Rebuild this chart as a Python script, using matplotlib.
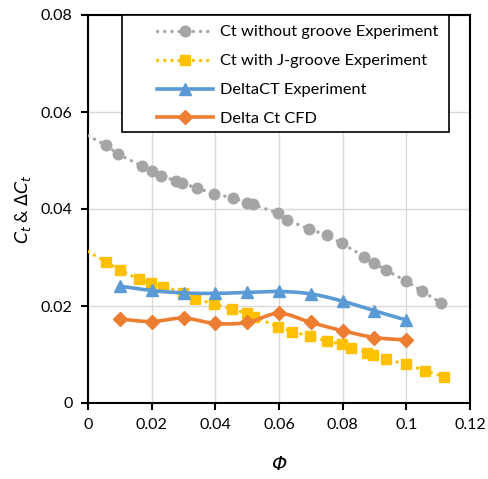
import numpy as np
import matplotlib
matplotlib.use("Agg")
import matplotlib.pyplot as plt
from matplotlib.patches import Rectangle
from matplotlib.ticker import FuncFormatter

plt.rcParams['font.family'] = ['Lato', 'DejaVu Sans']
plt.rcParams['mathtext.fontset'] = 'dejavusans'

# --- data ---------------------------------------------------------------
phi_no_groove = [0.0056, 0.0095, 0.0169, 0.0200, 0.0228, 0.0276, 0.0294, 0.0341,
                 0.0395, 0.0456, 0.0499, 0.0517, 0.0598, 0.0626, 0.0695, 0.0750,
                 0.0797, 0.0868, 0.0899, 0.0935, 0.0998, 0.1048, 0.1108]
ct_no_groove = [0.0532, 0.0513, 0.0489, 0.0479, 0.0469, 0.0458, 0.0453, 0.0444,
                0.0431, 0.0423, 0.0413, 0.0410, 0.0391, 0.0377, 0.0359, 0.0346,
                0.0329, 0.0302, 0.0289, 0.0274, 0.0252, 0.0231, 0.0207]
ct_no_groove_at_zero = 0.0551

phi_j_groove = [0.0057, 0.0100, 0.0160, 0.0198, 0.0237, 0.0299, 0.0336, 0.0396,
                0.0453, 0.0499, 0.0522, 0.0596, 0.0640, 0.0697, 0.0750, 0.0797,
                0.0825, 0.0876, 0.0896, 0.0935, 0.0999, 0.1059, 0.1118]
ct_j_groove = [0.0291, 0.0274, 0.0255, 0.0248, 0.0240, 0.0227, 0.0214, 0.0205,
               0.0193, 0.0185, 0.0178, 0.0157, 0.0147, 0.0138, 0.0128, 0.0121,
               0.0113, 0.0104, 0.0099, 0.0090, 0.0080, 0.0067, 0.0054]
ct_j_groove_at_zero = 0.0312

phi_delta = [0.01, 0.02, 0.03, 0.04, 0.05, 0.06, 0.07, 0.08, 0.09, 0.10]
delta_ct_exp = [0.0241, 0.0232, 0.0227, 0.0226, 0.0228, 0.0230, 0.0225, 0.0210, 0.0190, 0.0171]
delta_ct_cfd = [0.0173, 0.0168, 0.0175, 0.0164, 0.0166, 0.0185, 0.0166, 0.0149, 0.0135, 0.0130]

x_ticks = [0, 0.02, 0.04, 0.06, 0.08, 0.10, 0.12]
y_ticks = [0, 0.02, 0.04, 0.06, 0.08]

labels = ["Ct without groove Experiment", "Ct with J-groove Experiment",
          "DeltaCT Experiment", "Delta Ct CFD"]

GRAY = "#A5A5A5"
GOLD = "#FFC000"
BLUE = "#5B9BD5"
ORANGE = "#ED7D31"


def smooth(xs, ys, n=20):
    """Catmull-Rom curve through the given points (spreadsheet-style smoothed line)."""
    xs = np.asarray(xs, float)
    ys = np.asarray(ys, float)
    px = np.concatenate([[2 * xs[0] - xs[1]], xs, [2 * xs[-1] - xs[-2]]])
    py = np.concatenate([[2 * ys[0] - ys[1]], ys, [2 * ys[-1] - ys[-2]]])
    out_x, out_y = [], []
    t = np.linspace(0, 1, n, endpoint=False)
    for i in range(1, len(px) - 2):
        for p, out in ((px, out_x), (py, out_y)):
            p0, p1, p2, p3 = p[i - 1], p[i], p[i + 1], p[i + 2]
            out.extend(0.5 * ((2 * p1) + (-p0 + p2) * t
                              + (2 * p0 - 5 * p1 + 4 * p2 - p3) * t ** 2
                              + (-p0 + 3 * p1 - 3 * p2 + p3) * t ** 3))
    out_x.append(xs[-1])
    out_y.append(ys[-1])
    return np.array(out_x), np.array(out_y)


fig = plt.figure(figsize=(4.89, 4.79), dpi=100)
ax = fig.add_axes([88 / 489, 76 / 479, 382 / 489, 388 / 479])

dot_style = dict(linestyle=(0, (0.05, 2.1)), linewidth=2.4, dash_capstyle='round')

# dotted series lines, starting from the zero-flow value
ax.plot([0] + phi_no_groove, [ct_no_groove_at_zero] + ct_no_groove,
        color=GRAY, zorder=3, **dot_style)
ax.plot(phi_no_groove, ct_no_groove, linestyle='none', marker='o',
        markersize=7.6, color=GRAY, zorder=4)
ax.plot([0] + phi_j_groove, [ct_j_groove_at_zero] + ct_j_groove,
        color=GOLD, zorder=3, **dot_style)
ax.plot(phi_j_groove, ct_j_groove, linestyle='none', marker='s',
        markersize=7.6, color=GOLD, zorder=4)

sx, sy = smooth(phi_delta, delta_ct_exp)
ax.plot(sx, sy, color=BLUE, linewidth=2.6, zorder=5, solid_capstyle='round')
ax.plot(phi_delta, delta_ct_exp, linestyle='none', marker='^', markersize=8.5,
        color=BLUE, zorder=6)
sx, sy = smooth(phi_delta, delta_ct_cfd)
ax.plot(sx, sy, color=ORANGE, linewidth=2.6, zorder=5, solid_capstyle='round')
ax.plot(phi_delta, delta_ct_cfd, linestyle='none', marker='D', markersize=7,
        color=ORANGE, zorder=6)

ax.set_xlim(0, 0.12)
ax.set_ylim(0, 0.08)
ax.set_xticks(x_ticks)
ax.set_yticks(y_ticks)
fmt = FuncFormatter(lambda v, pos: "0" if abs(v) < 1e-12 else f"{v:g}")
ax.xaxis.set_major_formatter(fmt)
ax.yaxis.set_major_formatter(fmt)
ax.grid(True, color="#D9D9D9", linewidth=1.0, zorder=0)
ax.set_axisbelow(True)
for s in ax.spines.values():
    s.set_color("black")
    s.set_linewidth(1.5)
ax.tick_params(axis='both', direction='out', length=5, width=1.5,
               labelsize=11.5, colors='black', pad=6)

ax.set_xlabel("Φ", fontsize=14, labelpad=16, fontstyle='italic',
              family=['DejaVu Sans'])
ax.set_ylabel(r"$C_t$ & $\mathit{\Delta C_t}$", fontsize=12.5, labelpad=6)

# legend box
ax.add_patch(Rectangle((34 / 382, 1 - 117 / 388), 327 / 382, 117 / 388,
                       transform=ax.transAxes, facecolor='white', edgecolor='black',
                       linewidth=1.2, zorder=7, clip_on=False))

h1, = ax.plot([], [], color=GRAY, marker='o', markersize=7.6, **dot_style)
h2, = ax.plot([], [], color=GOLD, marker='s', markersize=7.6, **dot_style)
h3, = ax.plot([], [], color=BLUE, marker='^', markersize=8.5, linewidth=2.6)
h4, = ax.plot([], [], color=ORANGE, marker='D', markersize=7, linewidth=2.6)
leg = ax.legend([h1, h2, h3, h4], labels, loc='upper left',
                bbox_to_anchor=(69 / 382, 1 - 10 / 388), frameon=False,
                borderpad=0, borderaxespad=0, handlelength=3.4, handletextpad=0.45,
                labelspacing=0.88, fontsize=11.8, markerscale=1.0)
leg.set_zorder(8)

fig.savefig("out.png", dpi=100)
